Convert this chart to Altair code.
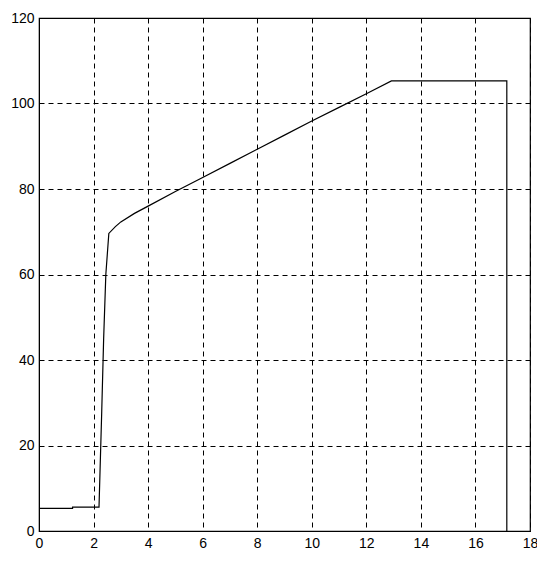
import altair as alt
import pandas as pd

xs = [0.0, 1.23, 1.23, 2.2, 2.2, 2.3, 2.37, 2.45, 2.56, 2.8, 3.0, 3.5, 4.0, 5.0, 6.0, 7.0, 8.0, 9.0, 10.0, 11.0, 12.0, 12.92, 17.15, 17.15, 17.15]
ys = [5.3, 5.3, 5.6, 5.6, 5.6, 28.0, 45.0, 60.0, 69.6, 71.2, 72.3, 74.3, 76.0, 79.4, 82.7, 86.0, 89.3, 92.6, 95.9, 99.1, 102.3, 105.3, 105.3, 5.4, 0.0]
x_ticks = [0, 2, 4, 6, 8, 10, 12, 14, 16, 18]
y_ticks = [0, 20, 40, 60, 80, 100, 120]

df = pd.DataFrame({"x": xs, "y": ys, "i": list(range(len(xs)))})

line = alt.Chart(df).mark_line(color="black", strokeWidth=1.2, clip=True).encode(
    x=alt.X("x:Q", scale=alt.Scale(domain=[0, 18], nice=False, zero=False),
            axis=alt.Axis(values=x_ticks, title=None, grid=True, gridColor="black",
                          gridDash=[5, 4], gridOpacity=1, gridWidth=1,
                          domain=True, domainColor="black", ticks=False,
                          labelPadding=5, labelFontSize=14, labelFont="Liberation Sans",
                          labelColor="black", labelFlush=False)),
    y=alt.Y("y:Q", scale=alt.Scale(domain=[0, 120], nice=False, zero=False),
            axis=alt.Axis(values=y_ticks, title=None, grid=True, gridColor="black",
                          gridDash=[5, 4], gridOpacity=1, gridWidth=1,
                          domain=True, domainColor="black", ticks=False,
                          labelPadding=5, labelFontSize=14, labelFont="Liberation Sans",
                          labelColor="black", labelFlush=False)),
    order=alt.Order("i:Q"),
)

chart = line.properties(
    width=491, height=513,
    autosize=alt.AutoSizeParams(type="none"),
    padding={"left": 31, "top": 10, "right": 7, "bottom": 21},
    background="white",
).configure_view(stroke="black", strokeWidth=1.2)

chart.save("out.html", embed_options={"renderer": "svg", "actions": False})
